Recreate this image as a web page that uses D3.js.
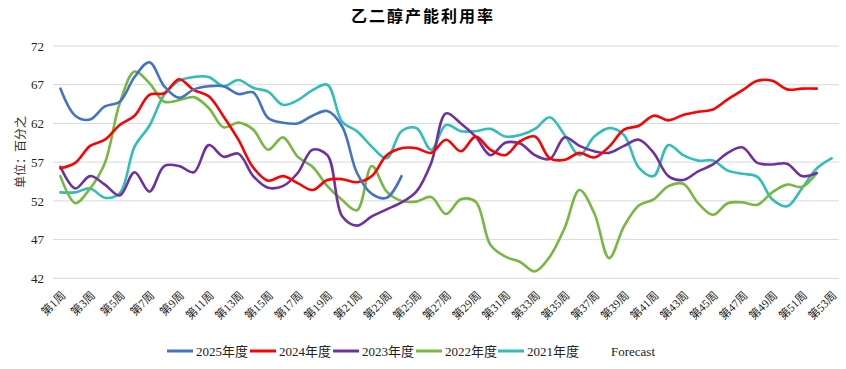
<!DOCTYPE html>
<html><head><meta charset="utf-8">
<script src="https://cdn.jsdelivr.net/npm/d3@7"></script>
<style>
body{margin:0;background:#fff;}
text{font-family:"Liberation Serif","Noto Sans CJK SC",serif;}
</style></head>
<body><svg id="c" width="846" height="369"></svg>
<script>
const weeks = d3.range(1, 54).map(w => "第" + w + "周");
const yTicks = [42, 47, 52, 57, 62, 67, 72];
const seriesNames = ["2025年度", "2024年度", "2023年度", "2022年度", "2021年度"];
const seriesColors = ["#4472C4", "#FF0000", "#7030A0", "#77B843", "#30BEB8"];

const s2025 = [66.5,63.0,62.5,64.2,64.8,68.0,69.9,66.8,65.3,66.4,66.8,66.8,65.8,66.0,62.7,62.1,62.0,63.0,63.6,61.6,55.6,52.9,52.4,55.2];
const s2024 = [56.2,56.9,59.1,59.9,61.8,63.0,65.7,65.9,67.7,66.3,65.5,62.9,59.9,56.3,54.6,55.2,54.3,53.4,54.7,54.8,54.4,55.2,57.9,58.8,58.8,58.2,
  59.9,58.4,60.3,58.6,57.9,59.7,60.3,57.5,57.3,58.2,57.6,59.0,61.2,61.7,63.0,62.4,63.1,63.5,63.8,65.1,66.3,67.5,67.5,66.4,66.5,66.5];
const s2023 = [56.4,53.6,55.2,54.1,52.7,55.7,53.2,56.5,56.5,55.7,59.2,57.7,58.1,55.2,53.7,53.9,55.6,58.6,57.9,50.0,48.8,50.0,50.9,51.8,53.2,56.9,
  63.3,62.0,60.3,57.9,59.5,59.4,57.9,57.4,60.2,59.1,58.4,58.2,59.1,59.9,58.2,55.2,54.7,55.8,56.7,58.2,58.9,56.9,56.7,56.8,55.2,55.6];
const s2022 = [55.2,51.7,53.6,56.9,64.6,68.7,67.2,64.8,65.0,65.4,64.0,61.5,62.1,61.2,58.6,60.2,57.7,56.4,53.9,52.1,50.8,56.5,53.2,52.0,51.9,52.5,
  50.3,52.2,51.9,46.3,44.8,44.1,42.9,44.8,48.5,53.4,50.4,44.6,48.7,51.4,52.2,53.9,54.2,51.7,50.2,51.7,51.8,51.5,53.1,54.1,53.8,55.6];
const s2021 = [53.1,53.1,53.6,52.4,53.0,59.0,61.7,65.7,67.5,68.0,68.0,66.8,67.6,66.6,66.1,64.4,65.0,66.3,67.0,62.2,61.0,59.0,57.5,61.0,61.4,58.6,
  61.8,61.0,61.0,61.3,60.3,60.5,61.3,62.8,60.5,57.9,60.3,61.4,60.5,56.3,55.2,59.2,57.9,57.2,57.2,55.9,55.5,55.1,52.2,51.3,53.6,56.2,57.5];
const allSeries = [s2025, s2024, s2023, s2022, s2021];

const svg = d3.select("#c");
const pLeft = 53, pRight = 839, pTop = 46, pBottom = 278.3;
const x = d3.scaleBand().domain(weeks).range([pLeft, pRight]);
const y = d3.scaleLinear().domain([42, 72]).range([pBottom, pTop]);

// title
svg.append("text").attr("x", 423).attr("y", 22).attr("text-anchor", "middle")
  .attr("font-size", 16).attr("font-weight", "bold").attr("letter-spacing", 2)
  .style("font-family", "'Noto Sans CJK SC',serif").text("乙二醇产能利用率");

// gridlines
svg.append("g").selectAll("line").data(yTicks).join("line")
  .attr("x1", pLeft).attr("x2", pRight)
  .attr("y1", d => y(d)).attr("y2", d => y(d))
  .attr("stroke", "#d9d9d9").attr("stroke-width", 1);

// y axis
const yAxis = d3.axisLeft(y).tickValues(yTicks).tickSize(0).tickPadding(9);
const gy = svg.append("g").attr("transform", `translate(${pLeft},0)`).call(yAxis);
gy.select(".domain").remove();
gy.selectAll("text").attr("font-size", 13).attr("fill", "#222")
  .style("font-family", "'Liberation Serif',serif");

// y title
svg.append("text").attr("transform", "translate(25,152) rotate(-90)")
  .attr("text-anchor", "middle").attr("font-size", 12).attr("fill", "#333")
  .style("font-family", "'Noto Sans CJK SC',serif").text("单位：百分之");

// x axis labels
const xAxis = d3.axisBottom(x).tickValues(weeks.filter((d, i) => i % 2 === 0)).tickSize(0).tickPadding(0);
const gx = svg.append("g").attr("transform", `translate(0,${pBottom})`).call(xAxis);
gx.select(".domain").remove();
gx.selectAll("text")
  .attr("font-size", 11.5).attr("fill", "#222")
  .attr("text-anchor", "end")
  .attr("transform", "translate(3,15) rotate(-45)")
  .attr("dy", "0.35em").attr("y", 0)
  .style("font-family", "'Liberation Serif','Noto Sans CJK SC',serif");

// lines
const cx = (d, i) => x(weeks[i]) + x.bandwidth() / 2;
const line = d3.line().x((d, i) => cx(d, i)).y(d => y(d)).curve(d3.curveCatmullRom.alpha(0.5));
const order = [4, 3, 2, 1, 0];
svg.append("g").selectAll("path").data(order).join("path")
  .attr("d", k => line(allSeries[k]))
  .attr("fill", "none").attr("stroke", k => seriesColors[k])
  .attr("stroke-width", 2.6).attr("stroke-linejoin", "round").attr("stroke-linecap", "round");

// legend
const legX = [167, 250, 333, 416, 498];
const lg = svg.append("g");
seriesNames.forEach((n, i) => {
  lg.append("line").attr("x1", legX[i]).attr("x2", legX[i] + 26)
    .attr("y1", 351).attr("y2", 351).attr("stroke", seriesColors[i]).attr("stroke-width", 3);
  lg.append("text").attr("x", legX[i] + 29).attr("y", 356).attr("font-size", 13).attr("fill", "#222").text(n);
});
lg.append("text").attr("x", 611).attr("y", 356).attr("font-size", 13).attr("fill", "#222").text("Forecast");
</script></body></html>
